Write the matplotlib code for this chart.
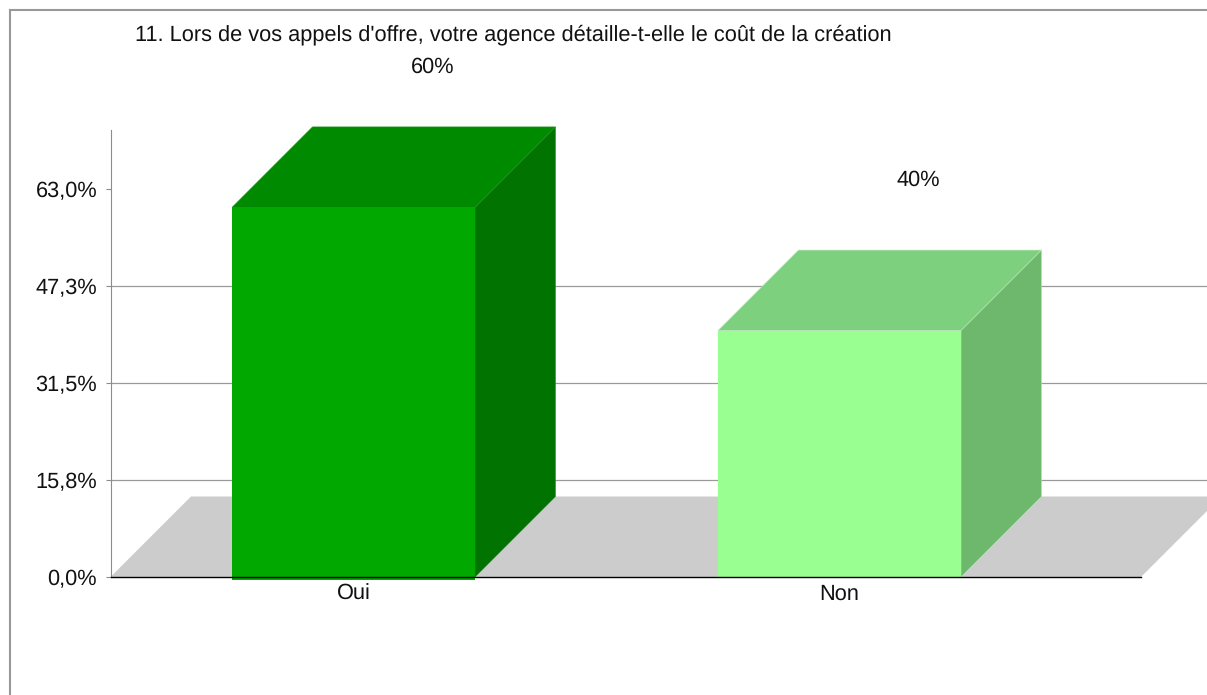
import matplotlib
matplotlib.use("Agg")
import matplotlib.pyplot as plt
from matplotlib.patches import Polygon

plt.rcParams['font.family'] = ['Liberation Sans', 'DejaVu Sans']
plt.rcParams['text.hinting'] = 'no_hinting'

title = "11. Lors de vos appels d'offre, votre agence détaille-t-elle le coût de la création"
categories = ["Oui", "Non"]
values = [60, 40]
value_labels = ["60%", "40%"]
ytick_values = [0.0, 15.75, 31.5, 47.25, 63.0]
ytick_labels = ["0,0%", "15,8%", "31,5%", "47,3%", "63,0%"]
front_colors = ["#00A800", "#99FF91"]
top_colors = ["#008A00", "#7DD07D"]
side_colors = ["#007300", "#6DB86D"]
edge_colors = ["#1F961F", "#B5E8B5"]

W, H = 1207, 695
PX_PER_CAT = 486.0
PX_PER_PCT = 6.16
LEFT, BASE, TOP = 110.5, 577.0, 130.0
BAR_W = 0.5
DEPTH_X = 80.5 / PX_PER_CAT
DEPTH_Y = 80.5 / PX_PER_PCT
FLOOR_RIGHT = (1141 - LEFT) / PX_PER_CAT - 0.5
FONT = 15.7

fig = plt.figure(figsize=(W / 100, H / 100), dpi=100, facecolor="white")
ax = fig.add_axes([LEFT / W, 1 - BASE / H, (W - LEFT) / W, (BASE - TOP) / H])
ax.set_xlim(-0.5, -0.5 + (W - LEFT) / PX_PER_CAT)
ax.set_ylim(0, (BASE - TOP) / PX_PER_PCT)
ax.set_facecolor("none")

for s in ["top", "right", "bottom"]:
    ax.spines[s].set_visible(False)
ax.spines["left"].set_color("#8c8c8c")
ax.spines["left"].set_linewidth(0.8)

ax.set_yticks(ytick_values)
ax.set_yticklabels(ytick_labels, fontsize=FONT, color="#111111")
ax.tick_params(axis="y", length=3.6, width=0.8, color="#8c8c8c", pad=6)
ax.set_xticks(range(len(categories)))
ax.set_xticklabels(categories, fontsize=FONT, color="#111111")
ax.tick_params(axis="x", length=0, pad=5)

# Floor plane behind the bars
floor = Polygon([(-0.5, 0), (-0.5 + DEPTH_X, DEPTH_Y),
                 (FLOOR_RIGHT + DEPTH_X, DEPTH_Y), (FLOOR_RIGHT, 0)],
                closed=True, fc="#CCCCCC", ec="none", zorder=1, clip_on=True)
ax.add_patch(floor)

# Horizontal rules stop short of the top tick
for v in ytick_values[1:-1]:
    ax.axhline(v, color="#9a9a9a", lw=0.9, zorder=1.5)

# Extruded bars: front, top and side faces
overhang = [0.5, 0.2]
for i, v in enumerate(values):
    x0, x1 = i - BAR_W / 2, i + BAR_W / 2
    ax.add_patch(Polygon([(x0, v), (x0 + DEPTH_X, v + DEPTH_Y),
                          (x1 + DEPTH_X, v + DEPTH_Y), (x1, v)],
                         closed=True, fc=top_colors[i], ec=edge_colors[i], lw=0.4,
                         zorder=3, clip_on=False))
    ax.add_patch(Polygon([(x1, 0), (x1 + DEPTH_X, DEPTH_Y),
                          (x1 + DEPTH_X, v + DEPTH_Y), (x1, v)],
                         closed=True, fc=side_colors[i], ec=edge_colors[i], lw=0.4,
                         zorder=3, clip_on=False))
    ax.bar(i, v + overhang[i], BAR_W, bottom=-overhang[i], color=front_colors[i],
           zorder=4, clip_on=False)

# Baseline across the front of the floor
ax.plot([-0.5, FLOOR_RIGHT], [0, 0], color="black", lw=1.0, zorder=5, clip_on=False)

# Value labels float above each bar
label_y = [82.8, 64.45]
label_x = [0.1636, 1.1615]
for x, y, t in zip(label_x, label_y, value_labels):
    ax.text(x, y, t, fontsize=FONT, ha="center", va="center", color="#111111", clip_on=False)

fig.text(513 / W, 1 - 35 / H, title, fontsize=FONT, ha="center", va="center", color="#111111")

# Frame along the top and left edges only
fig.add_artist(plt.Line2D([10 / W, 10 / W], [0, 1 - 10 / H], color="#999999", lw=1.5))
fig.add_artist(plt.Line2D([9.5 / W, 1], [1 - 10 / H, 1 - 10 / H], color="#999999", lw=1.5))

fig.savefig("out.png", dpi=100)
